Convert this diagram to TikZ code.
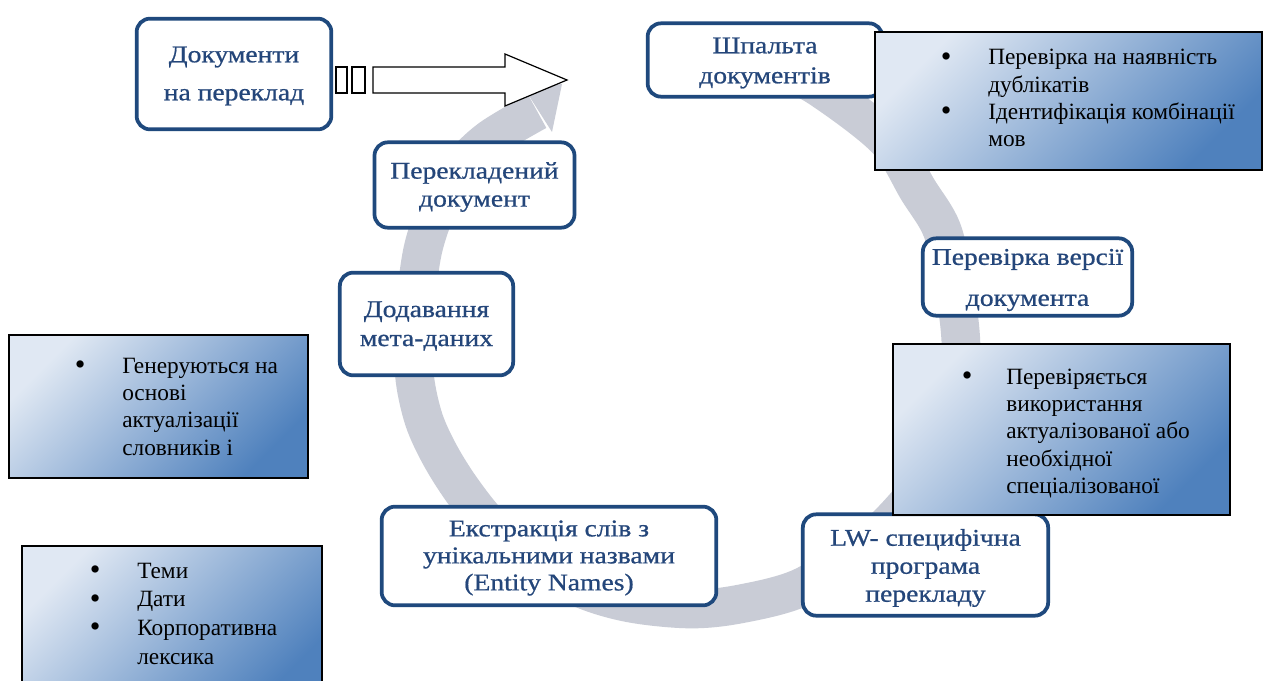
\documentclass[tikz,border=0pt]{standalone}
\usepackage{fontspec}
\setmainfont{Liberation Serif}
\newfontfamily\wfont[FakeStretch=1.15,FakeBold=0.8]{Liberation Serif}
\definecolor{wbord}{RGB}{31,73,125}
\definecolor{wtext}{RGB}{36,70,122}
\definecolor{bandc}{RGB}{201,204,214}
\definecolor{glight}{RGB}{224,232,243}
\definecolor{gdark}{RGB}{79,129,189}
\newcommand{\bdot}{\makebox[0pt]{\raisebox{-1.2pt}{\scalebox{1.3}{\textbullet}}}}
\begin{document}
\begin{tikzpicture}[x=0.75pt,y=-0.75pt,
  wbox/.style={draw=wbord, line width=2.8pt, fill=white, rounded corners=10pt,
    inner sep=0pt},
  wtxt/.style={inner sep=0pt, align=center, text=wtext},
  bbox/.style={draw=black, line width=1.5pt, top color=glight, bottom color=gdark,
    shading angle=45, inner sep=0pt, anchor=north west},
  btext/.style={inner sep=0pt, anchor=base west, text=black},
  arrowpart/.style={draw=black, fill=white, line width=0.9pt},
]
\clip (0,0) rectangle (1263,681);
\fill[white] (0,0) rectangle (1263,681);

% grey circular arrow
\draw[bandc, line width=29pt] plot[smooth, tension=0.55] coordinates {
 (775,65) (820,88) (886,139) (918,190) (942,230) (954,285) (961,345) (957,405)
 (938,462) (898,514) (855,553) (800,588) (740,604) (690,609) (630,603) (580,588)
 (530,560) (490,525) (462,490) (440,455) (424,420) (415,380) (414,340) (417,290)
 (424,245) (440,200) (460,168) (490,139) (537,111)};
\fill[bandc] (524,88) -- (562,84) -- (552,132) -- cycle;

% block arrow
\draw[arrowpart] (373,67) -- (505,67) -- (505,54) -- (567,80) -- (505,106) -- (505,93) -- (373,93) -- cycle;
\draw[arrowpart] (336,67) rectangle (347,93);
\draw[arrowpart] (352,67) rectangle (365,93);

% white boxes
\node[wbox, minimum width=146pt, minimum height=83pt] (docs) at (234,74) {};
\node[wtxt, font=\wfont\fontsize{18}{28.5}\selectfont] (docs-t) at ([yshift=-1.5pt]docs.center)
  {Документи\\на переклад};
\node[wbox, minimum width=176pt, minimum height=55pt] (shp) at (765,60) {};
\node[wtxt, font=\wfont\fontsize{18}{22.5}\selectfont] (shp-t) at ([yshift=-2.25pt]shp.center)
  {Шпальта\\документів};
\node[wbox, minimum width=150pt, minimum height=64pt] (perekl) at (474.5,185) {};
\node[wtxt, font=\wfont\fontsize{18}{21}\selectfont] (perekl-t) at ([yshift=-1.5pt]perekl.center)
  {Перекладений\\документ};
\node[wbox, minimum width=157pt, minimum height=58pt] (perev) at (1027.5,277) {};
\node[wtxt, font=\wfont\fontsize{18}{30.75}\selectfont] (perev-t) at ([yshift=-2.25pt]perev.center)
  {Перевірка версії\\документа};
\node[wbox, minimum width=130pt, minimum height=77pt] (dod) at (426.5,324) {};
\node[wtxt, font=\wfont\fontsize{18}{21.75}\selectfont] (dod-t) at ([yshift=-1.5pt]dod.center)
  {Додавання\\мета-даних};
\node[wbox, minimum width=251pt, minimum height=74pt] (ekstr) at (549,556) {};
\node[wtxt, font=\wfont\fontsize{18}{20.25}\selectfont] (ekstr-t) at ([yshift=-1.5pt]ekstr.center)
  {Екстракція слів з\\унікальними назвами\\(Entity Names)};
\node[wbox, minimum width=184pt, minimum height=76pt] (lw) at (925.5,565) {};
\node[wtxt, font=\wfont\fontsize{18}{21}\selectfont] (lw-t) at ([yshift=-2.25pt]lw.center)
  {LW- специфічна\\програма\\перекладу};

% blue boxes
\node[bbox, minimum width=290pt, minimum height=103.5pt] (b1) at (874,31) {};
\node[btext, font=\fontsize{17.5}{20.4}\selectfont] (t1) at (946,65)
 {\begin{tabular}[t]{@{}p{31.5pt}@{}l@{}}
  \bdot & Перевірка на наявність\\
   & дублікатів\\
  \bdot & Ідентифікація комбінації\\
   & мов
 \end{tabular}};

\node[bbox, minimum width=253pt, minimum height=128.5pt] (b2) at (892,343) {};
\node[btext, font=\fontsize{17.5}{20.6}\selectfont] (t2) at (967,384)
 {\begin{tabular}[t]{@{}p{29.25pt}@{}l@{}}
  \bdot & Перевіряється\\
   & використання\\
   & актуалізованої або\\
   & необхідної\\
   & спеціалізованої
 \end{tabular}};

\node[bbox, minimum width=224pt, minimum height=107pt] (b3) at (8,334) {};
\node[btext, font=\fontsize{17.5}{20.6}\selectfont] (t3) at (80,373)
 {\begin{tabular}[t]{@{}p{31.5pt}@{}l@{}}
  \bdot & Генеруються на\\
   & основі\\
   & актуалізації\\
   & словників і
 \end{tabular}};

\node[bbox, minimum width=225pt, minimum height=120pt] (b4) at (21,545) {};
\node[btext, font=\fontsize{17.5}{21.5}\selectfont] (t4) at (95,578)
 {\begin{tabular}[t]{@{}p{31.5pt}@{}l@{}}
  \bdot & Теми\\
  \bdot & Дати\\
  \bdot & Корпоративна\\
   & лексика
 \end{tabular}};
\end{tikzpicture}
\end{document}
